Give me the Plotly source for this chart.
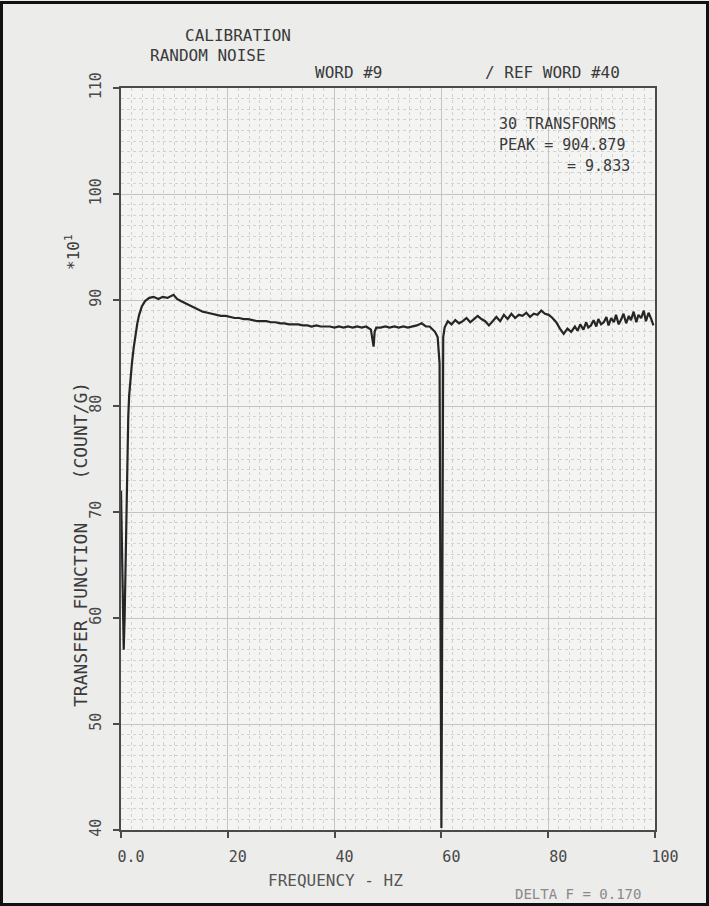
import plotly.graph_objects as go

# ---- data ----
freq_hz = [0.0, 0.17, 0.34, 0.51, 0.68, 0.85, 1.02, 1.19, 1.36, 1.53, 1.7, 2.04, 2.38, 2.72,
           3.06, 3.4, 3.9, 4.5, 5.3, 6.1, 7.0, 7.8, 8.7, 9.833, 10.5, 11.2, 12.0, 12.8, 13.6,
           14.5, 15.3, 16.2, 17.0, 17.9, 18.7, 19.6, 20.4, 21.3, 22.1, 23.0, 23.8, 24.7, 25.5,
           26.4, 27.2, 28.1, 28.9, 29.8, 30.6, 31.5, 32.3, 33.2, 34.0, 34.9, 35.7, 36.6, 37.4,
           38.3, 39.1, 40.0, 40.8, 41.7, 42.5, 43.4, 44.2, 45.1, 45.9, 46.8, 47.1, 47.3, 47.5,
           47.8, 48.6, 49.5, 50.3, 51.2, 52.0, 52.9, 53.7, 54.6, 55.4, 56.3, 57.1, 57.8, 58.3,
           58.8, 59.3, 59.66, 59.83, 60.0, 60.17, 60.34, 60.6, 61.2, 61.9, 62.6, 63.3, 64.0,
           64.7, 65.4, 66.1, 66.8, 67.5, 68.2, 68.9, 69.6, 70.3, 71.0, 71.7, 72.4, 73.1, 73.8,
           74.5, 75.2, 75.9, 76.6, 77.3, 78.0, 78.7, 79.4, 80.1, 80.8, 81.5, 82.2, 82.9, 83.6,
           84.3, 85.0, 85.5, 86.0, 86.6, 87.1, 87.5, 88.0, 88.5, 89.0, 89.4, 89.9, 90.4, 90.9,
           91.3, 91.8, 92.3, 92.7, 93.2, 93.7, 94.1, 94.6, 95.1, 95.5, 96.0, 96.5, 96.9, 97.4,
           97.9, 98.3, 98.8, 99.3, 99.7]
transfer = [72.0, 66.0, 60.0, 57.0, 60.0, 66.0, 72.0, 76.0, 79.0, 81.0, 82.2, 84.0, 85.5, 86.8,
            87.8, 88.6, 89.4, 89.9, 90.2, 90.3, 90.1, 90.3, 90.2, 90.49, 90.1, 89.9, 89.7, 89.5,
            89.3, 89.1, 88.9, 88.8, 88.7, 88.6, 88.5, 88.5, 88.4, 88.3, 88.3, 88.2, 88.2, 88.1,
            88.0, 88.0, 88.0, 87.9, 87.9, 87.8, 87.8, 87.7, 87.7, 87.7, 87.6, 87.6, 87.5, 87.6,
            87.5, 87.5, 87.5, 87.4, 87.5, 87.4, 87.5, 87.4, 87.5, 87.4, 87.5, 87.2, 86.0, 85.6,
            87.0, 87.4, 87.4, 87.5, 87.4, 87.5, 87.4, 87.5, 87.4, 87.5, 87.6, 87.8, 87.5, 87.5,
            87.2, 87.0, 86.5, 84.0, 60.0, 40.2, 62.0, 86.5, 87.4, 88.0, 87.7, 88.1, 87.8, 88.0,
            88.3, 87.9, 88.2, 88.5, 88.2, 88.0, 87.6, 88.0, 88.4, 88.0, 88.6, 88.2, 88.7, 88.3,
            88.6, 88.5, 88.8, 88.4, 88.7, 88.6, 89.0, 88.7, 88.6, 88.3, 87.9, 87.3, 86.8, 87.3,
            87.0, 87.5, 87.1, 87.7, 87.2, 87.9, 87.4, 87.6, 88.1, 87.5, 88.2, 87.7, 87.9, 88.4,
            87.6, 88.3, 87.9, 88.6, 87.7, 88.2, 88.7, 87.8, 88.5, 88.1, 88.9, 87.9, 88.6, 88.3,
            89.0, 88.0, 88.8, 88.2, 87.6]

x_tick_vals = [0, 20, 40, 60, 80, 100]
x_tick_text = ["0.0", "20", "40", "60", "80", "100"]
y_tick_vals = [40, 50, 60, 70, 80, 90, 100, 110]
y_tick_text = ["40", "50", "60", "70", "80", "90", "100", "110"]

W, H = 709, 906
L, R, T, B = 121, 54, 88, 76
PW, PH = W - L - R, H - T - B


def px(x):
    return (x - L) / PW


def py(y):
    return (H - B - y) / PH


FONT = "DejaVu Sans Mono"
INK = "#3a3a3a"

fig = go.Figure()
fig.add_trace(go.Scatter(x=freq_hz, y=transfer, mode="lines",
                         line=dict(color="#262626", width=2.2), showlegend=False,
                         hoverinfo="skip"))

axis_common = dict(showline=True, linecolor="#4a4a4a", linewidth=2, mirror=True,
                   ticks="outside", ticklen=6, tickcolor="#4a4a4a", tickwidth=1.5,
                   zeroline=False, tickfont=dict(family=FONT, size=15, color="#484848"))

fig.update_xaxes(range=[0, 100], tickvals=x_tick_vals, ticktext=x_tick_text,
                 showgrid=True, gridcolor="#c4c4c4", gridwidth=1, dtick=10,
                 minor=dict(dtick=2, showgrid=True, gridcolor="#d2d2d2", griddash="dot",
                            gridwidth=1),
                 ticklabelshift=10, ticklabelstandoff=6, **axis_common)
fig.update_yaxes(range=[40, 110], tickvals=y_tick_vals, ticktext=y_tick_text,
                 showgrid=True, gridcolor="#c4c4c4", gridwidth=1, tickangle=-90,
                 minor=dict(dtick=1, showgrid=True, gridcolor="#d2d2d2", griddash="dot",
                            gridwidth=1),
                 ticklabelstandoff=6, **axis_common)

texts = [
    ("CALIBRATION", 238, 35, 16, INK, 0),
    ("RANDOM NOISE", 208, 55, 16, INK, 0),
    ("WORD #9", 348, 73, 16, INK, 0),
    ("/ REF WORD #40", 552, 73, 16, INK, 0),
    ("30 TRANSFORMS", 557, 124, 15, INK, 0),
    ("PEAK = 904.879", 562, 145, 15, INK, 0),
    ("= 9.833", 598, 166, 15, INK, 0),
    ("TRANSFER FUNCTION    (COUNT/G)", 80, 545, 18, INK, -90),
    ("*10<sup>1</sup>", 73, 252, 16, INK, -90),
    ("FREQUENCY - HZ", 335, 880, 16, "#555555", 0),
    ("DELTA F = 0.170", 578, 894, 14, "#8a8a8a", 0),
]
for t, x, y, s, c, a in texts:
    fig.add_annotation(text=t, x=px(x), y=py(y), xref="paper", yref="paper",
                       showarrow=False, textangle=a, xanchor="center", yanchor="middle",
                       font=dict(family=FONT, size=s, color=c))

# scanned-page frame
fig.add_shape(type="rect", xref="paper", yref="paper",
              x0=px(1.5), x1=px(707.5), y0=py(904.5), y1=py(2.5),
              line=dict(color="#111111", width=3), fillcolor="rgba(0,0,0,0)")

fig.update_layout(width=W, height=H, margin=dict(l=L, r=R, t=T, b=B),
                  paper_bgcolor="#ececeb", plot_bgcolor="#f4f4f3",
                  showlegend=False)

fig.write_html("out.html", config={"displayModeBar": False},
               post_script="document.body.style.margin='0';document.body.style.overflow='hidden';")
